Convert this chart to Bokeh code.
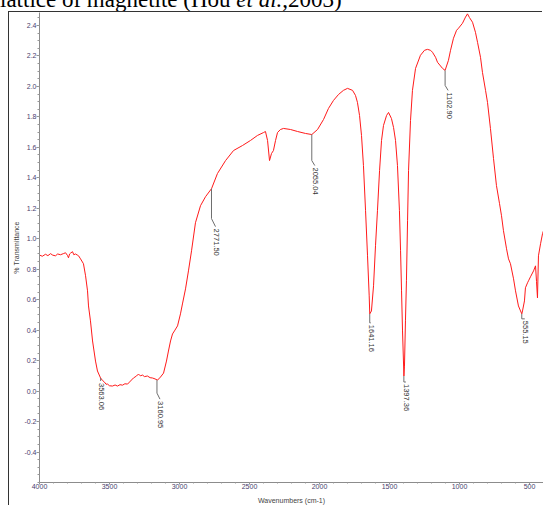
import math
from bokeh.plotting import figure
from bokeh.models import ColumnDataSource, Range1d, FixedTicker, NumeralTickFormatter, Div
from bokeh.layouts import column
from bokeh.embed import file_html
from bokeh.resources import INLINE
from bokeh.core.properties import value

# ---------------- data ----------------
wavenumber = [
    4000, 3980, 3957, 3940, 3921, 3905, 3886, 3870, 3850, 3830, 3814, 3800, 3793, 3785, 3779,
    3764, 3755, 3743, 3730, 3721, 3707, 3686, 3671, 3657, 3650, 3636, 3621, 3600, 3586, 3564,
    3550, 3536, 3525, 3514, 3500, 3479, 3460, 3443, 3425, 3407, 3390, 3371, 3350, 3329, 3307,
    3293, 3280, 3264, 3250, 3229, 3210, 3193, 3175, 3157, 3136, 3114, 3093, 3079, 3064, 3050,
    3036, 3014, 2993, 2979, 2957, 2936, 2914, 2886, 2850, 2814, 2771, 2729, 2671, 2614, 2550,
    2493, 2443, 2400, 2386, 2371, 2357, 2343, 2329, 2314, 2300, 2279, 2257, 2207, 2157, 2100,
    2055, 2014, 1971, 1936, 1900, 1864, 1829, 1800, 1764, 1743, 1729, 1714, 1700, 1686, 1671,
    1657, 1645, 1641, 1629, 1614, 1600, 1586, 1571, 1557, 1543, 1521, 1507, 1486, 1471, 1457,
    1443, 1429, 1421, 1414, 1407, 1397, 1393, 1386, 1379, 1371, 1364, 1350, 1336, 1314, 1279,
    1250, 1229, 1207, 1193, 1171, 1157, 1121, 1103, 1079, 1064, 1043, 1021, 1007, 979, 957,
    943, 929, 907, 886, 871, 850, 836, 814, 800, 779, 757, 736, 714, 700, 686,
    664, 650, 636, 614, 600, 579, 564, 555, 550, 536, 529, 514, 507, 493, 471,
    457, 450, 443, 436, 421, 407, 400,
]
transmittance = [
    0.893, 0.885, 0.898, 0.889, 0.902, 0.892, 0.888, 0.900, 0.895, 0.902, 0.908, 0.890, 0.875, 0.900, 0.905,
    0.915, 0.895, 0.900, 0.893, 0.888, 0.868, 0.836, 0.757, 0.658, 0.559, 0.461, 0.329, 0.197, 0.132, 0.086,
    0.070, 0.059, 0.045, 0.046, 0.035, 0.033, 0.040, 0.033, 0.042, 0.039, 0.048, 0.046, 0.066, 0.086, 0.099,
    0.112, 0.100, 0.105, 0.095, 0.099, 0.088, 0.086, 0.080, 0.072, 0.092, 0.118, 0.197, 0.263, 0.329, 0.375,
    0.395, 0.428, 0.507, 0.572, 0.671, 0.789, 0.921, 1.105, 1.217, 1.276, 1.329, 1.428, 1.513, 1.579, 1.612,
    1.645, 1.678, 1.697, 1.704, 1.645, 1.513, 1.559, 1.579, 1.645, 1.697, 1.717, 1.724, 1.717, 1.704, 1.691,
    1.684, 1.717, 1.783, 1.855, 1.908, 1.947, 1.974, 1.987, 1.974, 1.941, 1.895, 1.809, 1.678, 1.480, 1.184,
    0.888, 0.625, 0.507, 0.526, 0.691, 0.954, 1.184, 1.447, 1.645, 1.743, 1.809, 1.829, 1.789, 1.730, 1.645,
    1.480, 1.184, 0.921, 0.658, 0.395, 0.099, 0.164, 0.461, 0.724, 1.118, 1.447, 1.776, 1.974, 2.118, 2.204,
    2.237, 2.243, 2.237, 2.224, 2.191, 2.158, 2.118, 2.105, 2.171, 2.237, 2.316, 2.368, 2.382, 2.414, 2.455,
    2.476, 2.452, 2.421, 2.355, 2.289, 2.191, 2.092, 1.974, 1.895, 1.724, 1.526, 1.349, 1.230, 1.151, 1.053,
    0.934, 0.868, 0.836, 0.737, 0.658, 0.559, 0.526, 0.507, 0.526, 0.592, 0.678, 0.711, 0.724, 0.750, 0.789,
    0.822, 0.720, 0.612, 0.888, 0.967, 1.033, 1.053,
]

peak_labels = ["3563.06", "3160.95", "2771.50", "2055.04", "1641.16", "1397.36", "1102.90", "555.15"]
peak_wavenumber = [3563.06, 3160.95, 2771.50, 2055.04, 1641.16, 1397.36, 1102.90, 555.15]
peak_transmittance = [0.086, 0.072, 1.329, 1.684, 0.507, 0.099, 2.105, 0.507]

x_ticks = [4000, 3500, 3000, 2500, 2000, 1500, 1000, 500]
y_ticks = [-0.4, -0.2, 0.0, 0.2, 0.4, 0.6, 0.8, 1.0, 1.2, 1.4, 1.6, 1.8, 2.0, 2.2, 2.4]

title_text = "lattice of magnetite (Hou <i>et al.</i>,2003)"
x_label = "Wavenumbers (cm-1)"
y_label = "% Transmittance"

# ---------------- styles / geometry ----------------
W, H = 534, 494
MB_LEFT, MB_BOTTOM = 30, 24
X0, X1 = 4000, 400
Y0, Y1 = -0.6, 2.485
px_x = (W - MB_LEFT) / abs(X0 - X1)
px_y = (H - MB_BOTTOM) / (Y1 - Y0)

# leader style per label (screen px): vertical drop, diagonal dx, diagonal dy
leader_drop = [3, 13, 30, 26, 9, 6, 15, 5]
leader_dx = [0, 3, 4, 3, 1, 2, 3, 3]
leader_dy = [0, 6, 8, 5, 0, 0, 5, 0]

p = figure(width=W, height=H, x_range=Range1d(X0, X1), y_range=Range1d(Y0, Y1),
           output_backend="svg", toolbar_location=None,
           min_border_left=MB_LEFT, min_border_right=0, min_border_top=0,
           min_border_bottom=MB_BOTTOM)
p.margin = (1, 0, 0, 9)
p.styles = {"box-shadow": "-1px -1px 0 0 #333333"}
p.grid.visible = False
p.outline_line_color = None
p.background_fill_color = "white"
p.border_fill_color = "white"

p.line(wavenumber, transmittance, line_color="#ff1a1a", line_width=1)

# leaders and labels
xs, ys, lx, ly = [], [], [], []
for wn, t, v, dx, dy in zip(peak_wavenumber, peak_transmittance, leader_drop, leader_dx, leader_dy):
    x_end = wn - dx / px_x
    y_mid = t - v / px_y
    y_end = y_mid - dy / px_y
    xs.append([wn, wn, x_end])
    ys.append([t, y_mid, y_end])
    lx.append(x_end)
    ly.append(y_end)

p.multi_line(xs, ys, line_color="#6e6e6e", line_width=1)
src = ColumnDataSource(dict(x=lx, y=ly, text=peak_labels))
p.text(x="x", y="y", text="text", source=src, angle=-math.pi / 2,
       text_align="left", text_baseline="middle", y_offset=2, x_offset=1,
       text_font=value("Liberation Sans"), text_font_size="7.5px", text_color="#333333")

# axes
xa = p.xaxis[0]
ya = p.yaxis[0]
xa.ticker = FixedTicker(ticks=x_ticks, minor_ticks=list(range(4000, 399, -100)))
ya.ticker = FixedTicker(ticks=y_ticks, minor_ticks=[round(-0.6 + 0.05 * i, 2) for i in range(62)])
ya.formatter = NumeralTickFormatter(format="0.0")
xa.axis_label = x_label
ya.axis_label = y_label
for ax in (xa, ya):
    ax.axis_line_color = "#8c8c8c"
    ax.major_tick_line_color = "#8c8c8c"
    ax.minor_tick_line_color = "#9a9a9a"
    ax.major_tick_in = 0
    ax.major_tick_out = 3
    ax.minor_tick_in = 0
    ax.minor_tick_out = 2
    ax.major_label_text_font = "Liberation Sans"
    ax.major_label_text_font_size = "7px"
    ax.major_label_text_color = "#4a3d6e"
    ax.axis_label_text_font = "Liberation Sans"
    ax.axis_label_text_font_size = "7px"
    ax.axis_label_text_font_style = "normal"
    ax.axis_label_text_color = "#444444"
xa.major_tick_out = 2
xa.minor_tick_out = 1
xa.major_label_standoff = -1
xa.axis_label_standoff = 5
ya.major_label_standoff = 0
ya.axis_label_standoff = 1

title = Div(text=title_text, width=543, height=23, margin=(-12, 0, 0, 0),
            styles={"font-family": "'Liberation Serif', 'Times New Roman', serif",
                    "font-size": "23px", "line-height": "23px", "white-space": "nowrap",
                    "color": "black"})

layout = column(title, p, spacing=0)
open("out.html", "w").write(file_html(layout, INLINE))
